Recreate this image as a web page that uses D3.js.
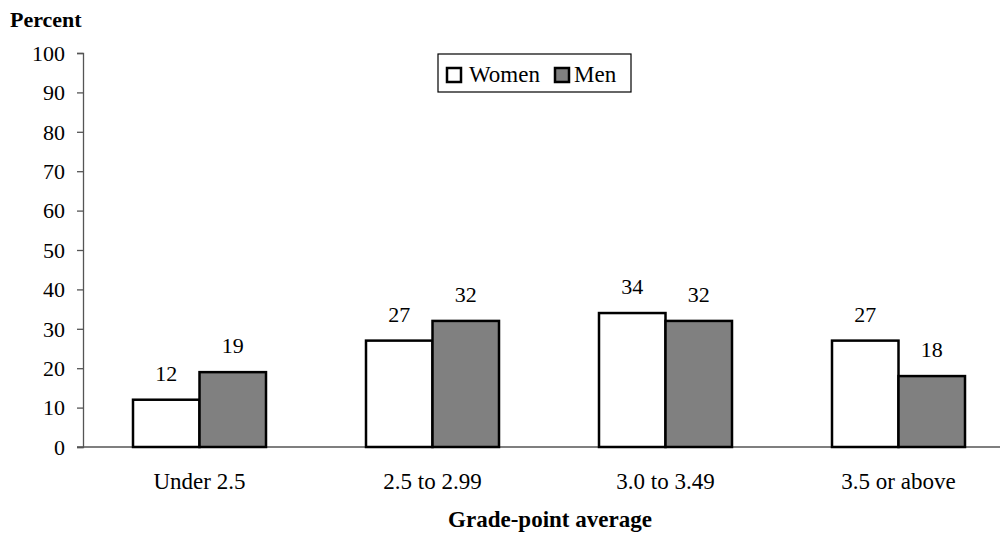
<!DOCTYPE html>
<html><head><meta charset="utf-8">
<script src="https://cdn.jsdelivr.net/npm/d3@7"></script>
</head><body style="margin:0;background:#fff"><svg id="c" width="1003" height="539" style="display:block"></svg>
<script>
const categories = ["Under 2.5", "2.5 to 2.99", "3.0 to 3.49", "3.5 or above"];
const series = ["Women", "Men"];
const women = [12, 27, 34, 27];
const men = [19, 32, 32, 18];
const yTicks = [0, 10, 20, 30, 40, 50, 60, 70, 80, 90, 100];
const colors = {Women: "#ffffff", Men: "#808080"};

(function () {
const FONT = '"Times New Roman", "Liberation Serif", Tinos, serif';
const svg = d3.select("#c");
const mLeft = 83, mRight = 1015, mTop = 53, mBottom = 447;
const x = d3.scaleBand().domain(categories).range([mLeft, mRight]).paddingInner(0).paddingOuter(0);
const y = d3.scaleLinear().domain([0, 100]).range([mBottom, mTop]);
const xs = d3.scaleBand().domain(series).range([0, 133]);
const groupOff = (x.bandwidth() - 133) / 2;

function txt(sel, size, bold) {
  return sel.attr("font-family", FONT).style("font-family", FONT, "important")
    .style("font-size", size + "px", "important").style("font-weight", bold ? "bold" : "normal", "important").attr("fill", "#000");
}

// y axis
const ya = svg.append("g").attr("transform", `translate(${mLeft},0)`)
  .call(d3.axisLeft(y).tickValues(yTicks).tickSize(6).tickPadding(12));
ya.attr("font-family", FONT).attr("font-size", null);
ya.select(".domain").attr("stroke", "#555").attr("stroke-width", 1.3);
ya.selectAll(".tick line").attr("stroke", "#555").attr("stroke-width", 1.3);
txt(ya.selectAll(".tick text"), 22).attr("dy", "0.33em");

// x axis baseline
svg.append("line").attr("x1", mLeft - 6).attr("x2", 1000).attr("y1", y(0)).attr("y2", y(0))
  .attr("stroke", "#555").attr("stroke-width", 1.3);

const data = categories.map((c, i) => ({c, vals: [{s: "Women", v: women[i]}, {s: "Men", v: men[i]}]}));
const g = svg.selectAll(".grp").data(data).enter().append("g")
  .attr("transform", d => `translate(${x(d.c) + groupOff},0)`);
g.selectAll("rect").data(d => d.vals).enter().append("rect")
  .attr("x", d => xs(d.s)).attr("width", xs.bandwidth())
  .attr("y", d => y(d.v)).attr("height", d => y(0) - y(d.v))
  .attr("fill", d => colors[d.s]).attr("stroke", "#000").attr("stroke-width", 2.5);
txt(g.selectAll("text.v").data(d => d.vals).enter().append("text").attr("class", "v")
  .attr("x", d => xs(d.s) + xs.bandwidth() / 2).attr("y", d => y(d.v) - 19)
  .attr("text-anchor", "middle"), 22).text(d => d.v);

// category labels
txt(svg.selectAll("text.cat").data(categories).enter().append("text").attr("class", "cat")
  .attr("x", d => x(d) + x.bandwidth() / 2).attr("y", 489)
  .attr("text-anchor", "middle"), 23).text(d => d);

// titles
txt(svg.append("text").attr("x", 10).attr("y", 27), 22, true).text("Percent");
txt(svg.append("text").attr("x", 550).attr("y", 527).attr("text-anchor", "middle"), 23, true).text("Grade-point average");

// legend
const lg = svg.append("g").attr("transform", "translate(438,54)");
lg.append("rect").attr("width", 193).attr("height", 38).attr("fill", "#fff").attr("stroke", "#000").attr("stroke-width", 1.2);
const items = [{s: "Women", x: 9, tx: 31}, {s: "Men", x: 117, tx: 136}];
items.forEach(it => {
  lg.append("rect").attr("x", it.x).attr("y", 14).attr("width", 14).attr("height", 14)
    .attr("fill", colors[it.s]).attr("stroke", "#000").attr("stroke-width", 2.5);
  txt(lg.append("text").attr("x", it.tx).attr("y", 28), 23).text(it.s);
});
})();
</script></body></html>
